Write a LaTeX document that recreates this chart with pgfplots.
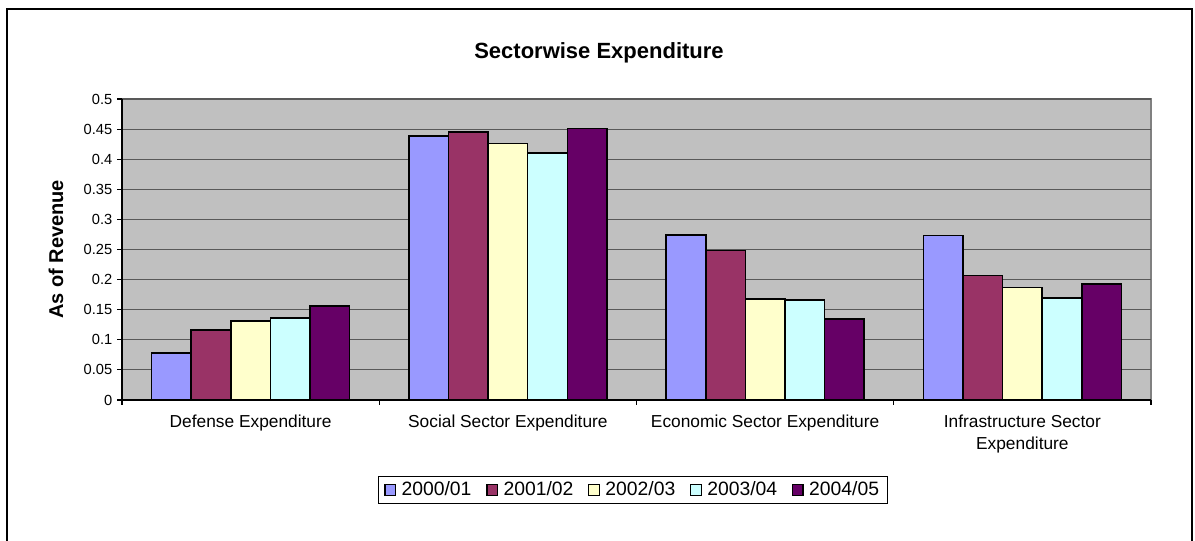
\documentclass[border=0pt]{standalone}
\usepackage{pgfplots}
\pgfplotsset{compat=1.18}
\usepackage{fontspec}
\setmainfont{Liberation Sans}
\definecolor{cA}{HTML}{9999FF}
\definecolor{cB}{HTML}{993366}
\definecolor{cC}{HTML}{FFFFCC}
\definecolor{cD}{HTML}{CCFFFF}
\definecolor{cE}{HTML}{660066}
\definecolor{plotbg}{HTML}{C0C0C0}
\pgfplotsset{
  sq/.style={legend image code/.code={\draw[##1,draw=black,line width=1pt] (0pt,-4pt) rectangle (8pt,4pt);}},
}
\begin{document}
\begin{tikzpicture}[x=0.75pt,y=0.75pt]
\path[use as bounding box] (0,0) rectangle (1195,541);
\draw[line width=1.2pt] (7,-5) -- (7,532) -- (1192,532) -- (1192,-5);
\node[font=\bfseries\fontsize{16.5}{20}\selectfont] at (599,488) {Sectorwise Expenditure};
\begin{axis}[
  at={(91.5pt,105.75pt)}, anchor=south west, scale only axis,
  width=771.75pt, height=225.75pt,
  xmin=0, xmax=4, ymin=0, ymax=0.5,
  axis background/.style={fill=plotbg, draw=black!50, line width=0.8pt},
  axis lines*=left,
  axis line style={line width=0.8pt, black},
  ybar=0pt, bar width=0.154,
  ytick={0,0.05,0.1,0.15,0.2,0.25,0.3,0.35,0.4,0.45,0.5},
  /pgf/number format/fixed, /pgf/number format/precision=2,
  /pgf/number format/assume math mode=true,
  yticklabel style={font=\fontsize{11}{13}\selectfont},
  ymajorgrids, major grid style={draw=black!65, line width=0.8pt},
  tick align=outside, major tick length=3.75pt,
  tick style={black, line width=0.8pt},
  xtick pos=left, ytick pos=left,
  xtick={0.5,1.5,2.5,3.5},
  xticklabels={Defense Expenditure, Social Sector Expenditure, Economic Sector Expenditure, {Infrastructure Sector\\Expenditure}},
  xtick style={draw=none},
  xticklabel style={font=\fontsize{13}{16.5}\selectfont, align=center, yshift=-4pt},
  extra x ticks={0,1,2,3,4}, extra x tick labels={},
  extra x tick style={xtick style={draw=black}, grid=none, xtick pos=left},
  ylabel={As of Revenue},
  ylabel style={font=\bfseries\fontsize{15}{18}\selectfont, at={(axis description cs:-0.0641,0.5)}, anchor=center},
  legend columns=5,
  legend style={at={(axis description cs:0.4966,0)}, anchor=north, yshift=-57pt,
    draw=black, line width=0.8pt, font=\fontsize{14.5}{17}\selectfont,
    inner xsep=4pt,
    /tikz/every odd column/.append style={column sep=2pt},
    /tikz/every even column/.append style={column sep=9pt}},
]
\addplot[sq, fill=cA, draw=black, line width=1.2pt] coordinates {(0.5,0.078) (1.5,0.439) (2.5,0.274) (3.5,0.273)};
\addplot[sq, fill=cB, draw=black, line width=1.2pt] coordinates {(0.5,0.116) (1.5,0.445) (2.5,0.248) (3.5,0.2065)};
\addplot[sq, fill=cC, draw=black, line width=1.2pt] coordinates {(0.5,0.131) (1.5,0.426) (2.5,0.168) (3.5,0.187)};
\addplot[sq, fill=cD, draw=black, line width=1.2pt] coordinates {(0.5,0.136) (1.5,0.410) (2.5,0.166) (3.5,0.169)};
\addplot[sq, fill=cE, draw=black, line width=1.2pt] coordinates {(0.5,0.156) (1.5,0.451) (2.5,0.1345) (3.5,0.193)};
\legend{2000/01,2001/02,2002/03,2003/04,2004/05}
\end{axis}
\end{tikzpicture}
\end{document}
